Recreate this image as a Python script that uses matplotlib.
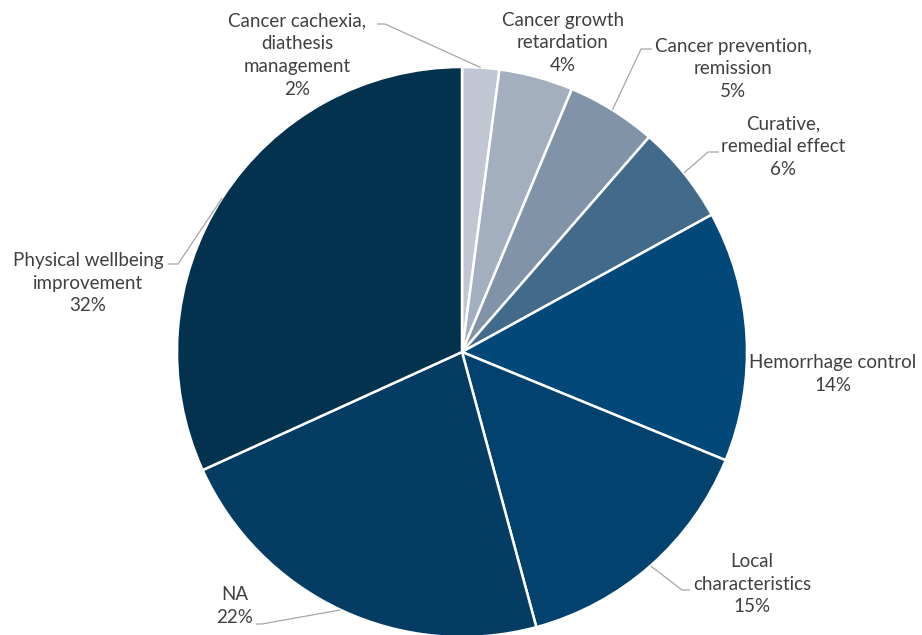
import numpy as np
import matplotlib.pyplot as plt

labels = ["Cancer cachexia,\ndiathesis\nmanagement", "Cancer growth\nretardation",
          "Cancer prevention,\nremission", "Curative,\nremedial effect",
          "Hemorrhage control", "Local\ncharacteristics", "NA",
          "Physical wellbeing\nimprovement"]
values = [2.1, 4.2, 5.1, 5.6, 14.2, 14.6, 22.4, 31.8]
colors = ["#c0c7d2", "#a3aebe", "#8093a8", "#426b8b", "#02497a", "#03426e", "#043c64", "#03324f"]

# layout (pixels, origin top-left)
W, H = 922, 635
cx, cy, r = 462, 352, 285
text_pos = [(297, 55), (563, 43), (733, 69), (783, 147), (833, 374), (752, 584), (235, 606), (88, 283)]
# elbow point and end of short horizontal stub for leader lines (None = no line)
leaders = [((385, 24), (377, 24)), None, ((641, 49), (652, 49)), ((708, 152), (719, 152)),
           None, ((682, 590), (690, 590)), ((262, 624), (256, 624)), ((178, 264), (168, 264))]

plt.rcParams['font.family'] = ['Lato', 'DejaVu Sans']
fig = plt.figure(figsize=(W / 100, H / 100), dpi=100)
ax = fig.add_axes([0, 0, 1, 1])

wedges, _ = ax.pie(values, colors=colors, startangle=90, counterclock=False,
                   center=(cx, H - cy), radius=r,
                   wedgeprops=dict(edgecolor='white', linewidth=1.8))
ax.set_xlim(0, W)
ax.set_ylim(0, H)
ax.set_aspect('equal')
ax.axis('off')

for w, lab, v, (tx, ty), ld in zip(wedges, labels, values, text_pos, leaders):
    ax.text(tx, H - ty, f"{lab}\n{v:.0f}%", ha='center', va='center', fontsize=13.5,
            color='#404040', linespacing=1.42)
    if ld is not None:
        ang = np.deg2rad((w.theta1 + w.theta2) / 2)
        px, py = cx + r * np.cos(ang), (H - cy) + r * np.sin(ang)
        (ex, ey), (sx, sy) = ld
        ax.plot([px, ex, sx], [py, H - ey, H - sy], color='#a6a6a6', lw=0.9,
                solid_capstyle='butt', clip_on=False)

fig.savefig("out.png", dpi=100)
